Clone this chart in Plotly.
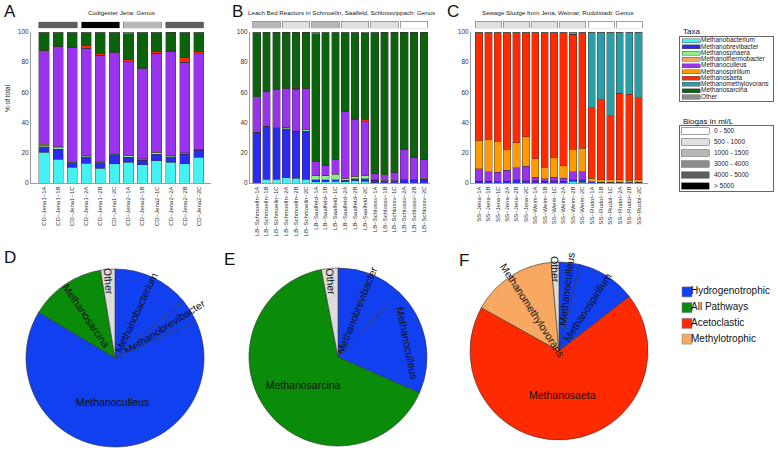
import plotly.graph_objects as go

W, H = 778, 450
def fx(p): return p / W
def fy(p): return 1 - p / H

FONT = "Liberation Sans, Arial, sans-serif"

taxa = ["Methanobacterium", "Methanobrevibacter", "Methanosphaera", "Methanothermobacter",
        "Methanoculleus", "Methanospirillum", "Methanosaeta", "Methanomethylovorans",
        "Methanosarcina", "Other"]
taxa_colors = ["#45f2f2", "#2b2bf0", "#8af08a", "#f0a860", "#9a34ec",
               "#ff9a00", "#ff2a00", "#2a9ea6", "#0b640b", "#8c8c8c"]

biogas_classes = ["0 - 500", "500 - 1000", "1000 - 1500", "3000 - 4000", "4000 - 5000", "> 5000"]
biogas_colors = ["#ffffff", "#e0e0e0", "#b8b8b8", "#8c8c8c", "#5e5e5e", "#000000"]

# ---------------- Panel A: Codigester Jena ----------------
samples_A = ["CD−Jena1−1A", "CD−Jena1−1B", "CD−Jena1−1C", "CD−Jena1−2A", "CD−Jena1−2B", "CD−Jena1−2C",
             "CD−Jena2−1A", "CD−Jena2−1B", "CD−Jena2−1C", "CD−Jena2−2A", "CD−Jena2−2B", "CD−Jena2−2C"]
A_methanobacterium = [20.5, 15.7, 10.4, 13.1, 9.7, 12.6, 13.7, 12.2, 14.8, 13.9, 12.8, 17.0]
A_methanobrevibacter = [3.5, 6.6, 2.9, 4.4, 3.6, 6.0, 3.3, 2.8, 4.2, 3.6, 6.2, 4.7]
A_methanosphaera = [1.0, 1.2, 0.5, 0.5, 0.6, 0.6, 1.2, 0.7, 1.0, 0.7, 0.6, 0.5]
A_methanothermobacter = [0.8, 0.5, 0.5, 0.3, 0.3, 0.4, 0.3, 0.3, 0.5, 0.3, 0.3, 0.3]
A_methanoculleus = [62.2, 66.6, 75.3, 71.0, 70.3, 67.1, 61.8, 60.1, 65.3, 68.9, 60.0, 63.1]
A_methanospirillum = [0, 0, 0, 0, 0, 0, 0, 0, 0, 0, 0, 0]
A_methanosaeta = [0, 0, 0.3, 1.5, 1.0, 0.3, 1.8, 0.3, 1.5, 0.2, 3.5, 1.3]
A_methanomethylovorans = [0, 0, 0, 0, 0, 0, 0, 0, 0, 0, 0, 0]
A_methanosarcina = [11.5, 8.9, 9.6, 8.7, 14.0, 12.5, 16.9, 23.1, 12.2, 12.2, 16.1, 12.6]
A_other = [0.5, 0.5, 0.5, 0.5, 0.5, 0.5, 1.0, 0.5, 0.5, 0.2, 0.5, 0.5]
A_biogas = ["4000 - 5000", "> 5000", "1000 - 1500", "4000 - 5000"]

# ---------------- Panel B: Leach Bed Reactors ----------------
samples_B = ["LB−Schmoelln−1A", "LB−Schmoelln−1B", "LB−Schmoelln−1C", "LB−Schmoelln−2A", "LB−Schmoelln−2B", "LB−Schmoelln−2C",
             "LB−Saalfeld−1A", "LB−Saalfeld−1B", "LB−Saalfeld−1C", "LB−Saalfeld−2A", "LB−Saalfeld−2B", "LB−Saalfeld−2C",
             "LB−Schlossv−1A", "LB−Schlossv−1B", "LB−Schlossv−1C", "LB−Schlossv−2A", "LB−Schlossv−2B", "LB−Schlossv−2C"]
B_methanobacterium = [0, 2.6, 2.6, 3.5, 3.1, 2.6, 0.8, 0.8, 1.0, 0.8, 1.5, 1.2, 0.3, 0, 0, 0, 0, 0]
B_methanobrevibacter = [33.5, 35.1, 34.0, 32.5, 31.1, 31.6, 1.2, 1.2, 1.3, 1.0, 1.2, 1.5, 1.5, 1.5, 1.5, 2.0, 2.0, 2.5]
B_methanosphaera = [0, 0, 0, 1.0, 0, 1.0, 2.8, 3.0, 3.5, 1.0, 1.3, 2.0, 0, 0, 0, 0, 0, 0]
B_methanothermobacter = [0, 0, 0, 0, 0, 0, 0.3, 0.3, 0.5, 0.3, 0.5, 0.5, 0.5, 0.3, 0.3, 0.5, 0.5, 0.5]
B_methanoculleus = [23.7, 23.0, 25.0, 25.9, 28.0, 27.3, 9.2, 6.3, 9.5, 44.3, 37.6, 35.4, 4.3, 3.7, 5.4, 19.4, 14.4, 12.6]
B_methanospirillum = [0] * 18
B_methanosaeta = [0, 0, 0, 0.5, 0.5, 0.3, 0, 0, 0, 0, 0.5, 1.2, 0, 0, 0, 0, 0, 0]
B_methanomethylovorans = [0] * 18
B_methanosarcina = [42.3, 39.0, 38.2, 36.4, 37.1, 37.0, 84.7, 87.9, 83.7, 52.1, 56.9, 57.5, 93.0, 94.3, 92.6, 77.9, 82.9, 84.2]
B_other = [0.5, 0.3, 0.2, 0.2, 0.2, 0.2, 1.0, 0.5, 0.5, 0.5, 0.5, 0.7, 0.4, 0.2, 0.2, 0.2, 0.2, 0.2]
B_biogas = ["1000 - 1500", "500 - 1000", "1000 - 1500", "500 - 1000", "500 - 1000", "0 - 500"]

# ---------------- Panel C: Sewage Sludge ----------------
samples_C = ["SS−Jena−1A", "SS−Jena−1B", "SS−Jena−1C", "SS−Jena−2A", "SS−Jena−2B", "SS−Jena−2C",
             "SS−Weim−1A", "SS−Weim−1B", "SS−Weim−1C", "SS−Weim−2A", "SS−Weim−2B", "SS−Weim−2C",
             "SS−Rudol−1A", "SS−Rudol−1B", "SS−Rudol−1C", "SS−Rudol−2A", "SS−Rudol−2B", "SS−Rudol−2C"]
C_methanobacterium = [0, 0, 0, 0, 0, 0, 0, 0, 0, 0, 1.0, 0.5, 0, 0, 0, 0, 0, 0]
C_methanobrevibacter = [1.0, 1.2, 0.8, 1.0, 2.0, 1.5, 1.5, 1.0, 1.5, 1.0, 1.0, 1.5, 0.7, 0.5, 0.5, 0.5, 0.5, 0.5]
C_methanosphaera = [0] * 18
C_methanothermobacter = [0] * 18
C_methanoculleus = [8.6, 6.3, 6.2, 7.4, 8.2, 9.5, 2.2, 1.8, 2.2, 2.0, 5.6, 5.4, 0, 0, 0, 0, 0, 0]
C_methanospirillum = [18.4, 21.4, 20.6, 13.9, 16.4, 19.7, 12.3, 7.6, 13.2, 8.5, 14.9, 15.5, 2.5, 1.5, 2.0, 1.5, 1.2, 1.5]
C_methanosaeta = [71.5, 70.6, 72.0, 77.2, 73.0, 68.8, 83.5, 89.1, 82.6, 87.9, 76.0, 76.6, 46.7, 53.2, 42.1, 57.3, 57.0, 54.3]
C_methanomethylovorans = [0, 0, 0, 0, 0, 0, 0, 0, 0, 0, 0, 0, 49.6, 44.3, 54.9, 40.2, 40.8, 43.2]
C_methanosarcina = [0] * 18
C_other = [0.5, 0.5, 0.4, 0.5, 0.4, 0.5, 0.5, 0.5, 0.5, 0.6, 1.5, 0.5, 0.5, 0.5, 0.5, 0.5, 0.5, 0.5]
C_biogas = ["500 - 1000", "500 - 1000", "500 - 1000", "500 - 1000", "0 - 500", "0 - 500"]

# ---------------- Pies ----------------
pathways = ["Hydrogenotrophic", "All Pathways", "Acetoclastic", "Methylotrophic"]
pathway_colors = ["#1040f0", "#0a8c0a", "#ff2a00", "#f8a860"]
other_color = "#dcdcdc"

D_labels = ["Methanobacterium", "Methanobrevibacter", "Methanoculleus", "Methanosarcina", "Other"]
D_values = [13.9, 4.3, 65.4, 13.8, 2.6]
D_pathway = ["Hydrogenotrophic", "Hydrogenotrophic", "Hydrogenotrophic", "All Pathways", "Other"]

E_labels = ["Methanobrevibacter", "Methanoculleus", "Methanosarcina", "Other"]
E_values = [12.1, 19.5, 65.4, 3.0]
E_pathway = ["Hydrogenotrophic", "Hydrogenotrophic", "All Pathways", "Other"]

F_labels = ["Methanoculleus", "Methanospirillum", "Methanosaeta", "Methanomethylovorans", "Other"]
F_values = [3.8, 10.7, 68.6, 15.5, 1.4]
F_pathway = ["Hydrogenotrophic", "Hydrogenotrophic", "Acetoclastic", "Methylotrophic", "Other"]

panel_titles = ["Codigester Jena: Genus",
                "Leach Bed Reactors in Schmoelln, Saalfeld, Schlossvippach: Genus",
                "Sewage Sludge from Jena, Weimar, Rudolstadt: Genus"]

panels = [
    dict(samples=samples_A, series=[A_methanobacterium, A_methanobrevibacter, A_methanosphaera, A_methanothermobacter,
                                    A_methanoculleus, A_methanospirillum, A_methanosaeta, A_methanomethylovorans,
                                    A_methanosarcina, A_other], biogas=A_biogas,
         xdom=(31, 211), xrange=(-0.93, 11.87), bw=0.73, strip=(21.7, 28.3), title_x=121),
    dict(samples=samples_B, series=[B_methanobacterium, B_methanobrevibacter, B_methanosphaera, B_methanothermobacter,
                                    B_methanoculleus, B_methanospirillum, B_methanosaeta, B_methanomethylovorans,
                                    B_methanosarcina, B_other], biogas=B_biogas,
         xdom=(250, 430), xrange=(-0.68, 17.62), bw=0.78, strip=(21.0, 28.3), title_x=341),
    dict(samples=samples_C, series=[C_methanobacterium, C_methanobrevibacter, C_methanosphaera, C_methanothermobacter,
                                    C_methanoculleus, C_methanospirillum, C_methanosaeta, C_methanomethylovorans,
                                    C_methanosarcina, C_other], biogas=C_biogas,
         xdom=(471, 648), xrange=(-0.85, 18.0), bw=0.78, strip=(21.0, 28.3), title_x=558),
]

fig = go.Figure()
layout = {}
annotations = []
NOAX = dict(automargin=False, showgrid=False, zeroline=False)

def note(text, px, py, size, xanchor="center", angle=0, color="#222"):
    return dict(text=text, x=fx(px), y=fy(py), xref="paper", yref="paper", xanchor=xanchor, yanchor="middle",
                textangle=angle, showarrow=False, font=dict(size=size, color=color))

for k, p in enumerate(panels):
    xa = "x" if k == 0 else f"x{k+1}"
    ya = "y" if k == 0 else f"y{k+1}"
    ys = f"y{k+4}"   # biogas strip axis
    n = len(p["samples"])
    xs = list(range(n))
    for name, color, vals in zip(taxa, taxa_colors, p["series"]):
        fig.add_trace(go.Bar(x=xs, y=vals, name=name, marker=dict(color=color, line=dict(color="#333", width=0.4)),
                             width=p["bw"], xaxis=xa, yaxis=ya, showlegend=False, hoverinfo="skip"))
    centers = [3 * g + 1 for g in range(len(p["biogas"]))]
    fig.add_trace(go.Bar(x=centers, y=[1] * len(centers), width=2 + p["bw"],
                         marker=dict(color=[biogas_colors[biogas_classes.index(b)] for b in p["biogas"]],
                                     line=dict(color="#8a8a8a", width=0.8)),
                         xaxis=xa, yaxis=ys, showlegend=False, hoverinfo="skip"))
    xkey = "xaxis" if k == 0 else f"xaxis{k+1}"
    ykey = "yaxis" if k == 0 else f"yaxis{k+1}"
    layout[xkey] = dict(domain=[fx(p["xdom"][0]), fx(p["xdom"][1])], range=list(p["xrange"]), anchor=ya,
                        tickvals=xs, ticktext=p["samples"], tickangle=-90,
                        tickfont=dict(size=6, color="#333"), showline=True, linecolor="#9a9ab0", linewidth=1,
                        ticks="", **NOAX)
    layout[ykey] = dict(domain=[fy(183), fy(32)], range=[0, 100], anchor=xa,
                        tickvals=[0, 20, 40, 60, 80, 100], tickfont=dict(size=6.5, color="#333"),
                        showline=True, linecolor="#999", linewidth=1, ticks="", **NOAX)
    layout[f"yaxis{k+4}"] = dict(domain=[fy(p["strip"][1]), fy(p["strip"][0])], range=[0, 1], anchor=xa,
                                 visible=False, **NOAX)
    layout[f"yaxis{k+7}"] = dict(overlaying=ya, side="right", anchor=xa, range=[0, 100],
                                 tickvals=[0, 20, 40, 60, 80, 100], showticklabels=False, ticks="outside",
                                 ticklen=3, tickcolor="#555", showline=False, **NOAX)
    annotations.append(note(panel_titles[k], p["title_x"], 13, 6.2))

annotations.append(note("% of total", 8, 98, 6.5, angle=-90))

for letter, (px, py) in zip("ABCDEF", [(10, 12), (237, 12), (453, 11), (10, 257), (229, 259), (464, 260)]):
    annotations.append(note(letter, px, py, 17, color="#111"))

# ---- Taxa legend (custom) ----
ti = list(range(len(taxa)))
fig.add_trace(go.Bar(y=ti, x=[18] * len(taxa), orientation="h", width=0.64,
                     marker=dict(color=taxa_colors, line=dict(color="#555", width=0.5)),
                     xaxis="x4", yaxis="y10", showlegend=False, hoverinfo="skip"))
fig.add_trace(go.Scatter(y=ti, x=[19] * len(taxa), mode="text", text=taxa, textposition="middle right",
                         textfont=dict(size=6.5, color="#222"), xaxis="x4", yaxis="y10", cliponaxis=False,
                         showlegend=False, hoverinfo="skip"))
layout["xaxis4"] = dict(domain=[fx(680), fx(773)], range=[-2, 91], anchor="y10", showline=True, mirror=True,
                        linecolor="#666", linewidth=1, showticklabels=False, ticks="", **NOAX)
layout["yaxis10"] = dict(domain=[fy(101), fy(37)], range=[9.64, -0.59], anchor="x4", showline=True, mirror=True,
                         linecolor="#666", linewidth=1, showticklabels=False, ticks="", **NOAX)
annotations.append(note("Taxa", 681, 31, 8, xanchor="left", color="#111"))

# ---- Biogas legend (custom) ----
bi = list(range(len(biogas_classes)))
fig.add_trace(go.Bar(y=bi, x=[28] * len(bi), orientation="h", width=0.57,
                     marker=dict(color=biogas_colors, line=dict(color="#888", width=0.8)),
                     xaxis="x5", yaxis="y11", showlegend=False, hoverinfo="skip"))
fig.add_trace(go.Scatter(y=bi, x=[33] * len(bi), mode="text", text=biogas_classes, textposition="middle right",
                         textfont=dict(size=6.5, color="#222"), xaxis="x5", yaxis="y11", cliponaxis=False,
                         showlegend=False, hoverinfo="skip"))
layout["xaxis5"] = dict(domain=[fx(680), fx(773)], range=[-1, 92], anchor="y11", showline=True, mirror=True,
                        linecolor="#666", linewidth=1, showticklabels=False, ticks="", **NOAX)
layout["yaxis11"] = dict(domain=[fy(191), fy(126)], range=[5.4545, -0.4545], anchor="x5", showline=True, mirror=True,
                         linecolor="#666", linewidth=1, showticklabels=False, ticks="", **NOAX)
annotations.append(note("Biogas in ml/L", 681, 121.5, 8, xanchor="left", color="#111"))

# ---- Pies ----
def pie_colors(pw):
    return [pathway_colors[pathways.index(c)] if c in pathways else other_color for c in pw]

for labels, values, pw, (cx, cy) in [(D_labels, D_values, D_pathway, (115, 358)),
                                      (E_labels, E_values, E_pathway, (338, 357)),
                                      (F_labels, F_values, F_pathway, (559, 351))]:
    r = 89
    fig.add_trace(go.Pie(labels=labels, values=values, sort=False, direction="clockwise", rotation=0,
                         marker=dict(colors=pie_colors(pw), line=dict(color="#333", width=0.6)),
                         textinfo="label", textposition="inside", insidetextorientation="auto",
                         textfont=dict(size=10.5, color="#111", family=FONT),
                         domain=dict(x=[fx(cx - r), fx(cx + r)], y=[fy(cy + r), fy(cy - r)]),
                         showlegend=False, hoverinfo="skip"))

# ---- Pie legend (custom) ----
pi = list(range(len(pathways)))
fig.add_trace(go.Scatter(x=[9] * len(pi), y=pi, mode="markers", marker=dict(symbol="square", size=10,
                         color=pathway_colors, line=dict(color="#777", width=0.5)),
                         xaxis="x6", yaxis="y12", showlegend=False, hoverinfo="skip"))
fig.add_trace(go.Scatter(x=[13] * len(pi), y=pi, mode="text", text=pathways, textposition="middle right",
                         textfont=dict(size=10, color="#111"), xaxis="x6", yaxis="y12", cliponaxis=False,
                         showlegend=False, hoverinfo="skip"))
layout["xaxis6"] = dict(domain=[fx(678), fx(778)], range=[0, 100], anchor="y12", visible=False, **NOAX)
layout["yaxis12"] = dict(domain=[fy(347), fy(284)], range=[3.5, -0.5], anchor="x6", visible=False, **NOAX)

fig.update_layout(template="none")
fig.update_layout(**layout)
fig.update_layout(width=W, height=H, margin=dict(l=0, r=0, t=0, b=0, pad=0, autoexpand=False),
                  paper_bgcolor="white", plot_bgcolor="rgba(0,0,0,0)", barmode="stack",
                  font=dict(family=FONT, color="#222"),
                  annotations=annotations, uniformtext=dict(minsize=10.5, mode="show"), showlegend=False)

fig.write_html("out.html", config={"displayModeBar": False, "staticPlot": True},
               post_script="document.body.style.margin='0';document.body.style.overflow='hidden';")
